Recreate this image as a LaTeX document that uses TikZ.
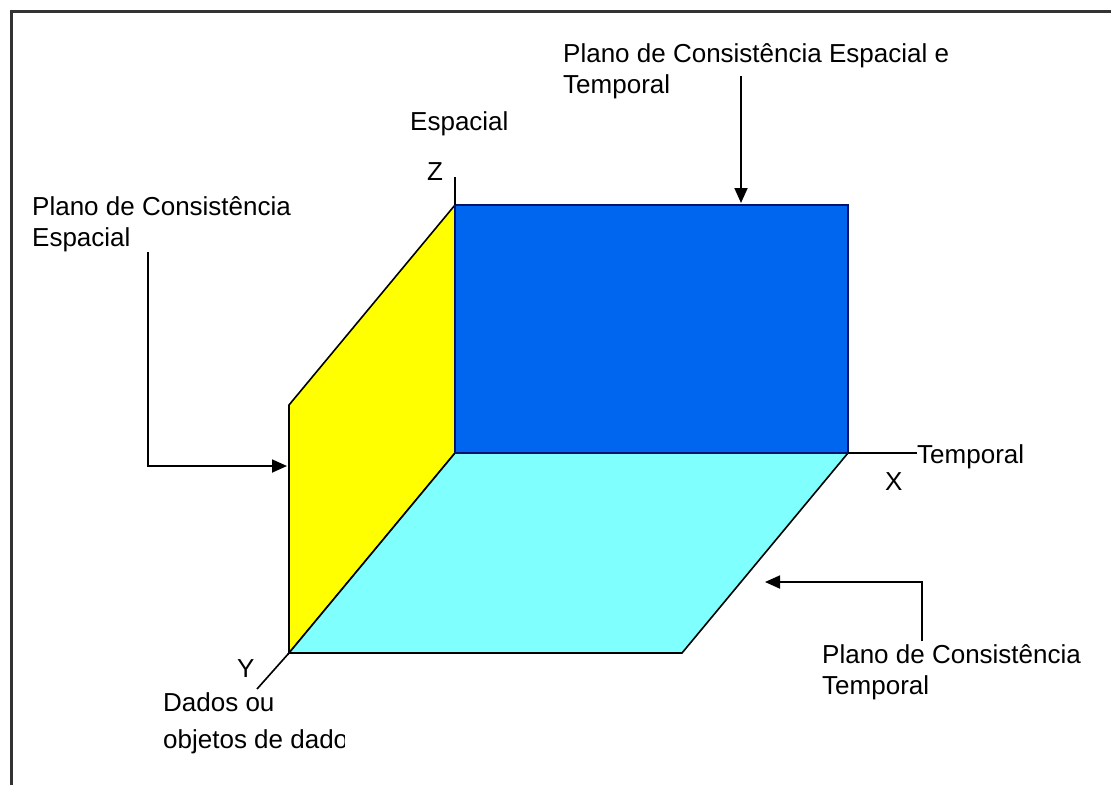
\documentclass[tikz,border=0pt]{standalone}
\usepackage{fontspec}
\setmainfont{Liberation Sans}
\usetikzlibrary{arrows.meta}
\definecolor{planeblue}{RGB}{0,102,240}
\definecolor{planenavy}{RGB}{0,20,110}
\definecolor{planecyan}{RGB}{128,255,255}
\definecolor{planeyellow}{RGB}{255,255,0}
\begin{document}
\begin{tikzpicture}[x=1pt,y=-1pt,
  lbl/.style={font=\fontsize{26}{31}\selectfont, inner sep=0pt, anchor=base west, align=left},
  edgeline/.style={line width=1.6pt},
  axisline/.style={draw=black, line width=1.6pt},
  ptr/.style={draw=black, line width=1.8pt, -{Triangle[length=15pt,width=13pt]}},
  ]
\useasboundingbox (0,0) rectangle (1111,785);
\fill[white] (0,0) rectangle (1111,785);
\draw[line width=3pt, black!80] (11,785) -- (11,11) -- (1111,11);

% geometry
\coordinate (O) at (455,453);
\coordinate (Zt) at (455,205);
\coordinate (Xr) at (848,453);
\coordinate (XZ) at (848,205);
\coordinate (Yb) at (289,653);
\coordinate (YZ) at (289,405);
\coordinate (XY) at (682,653);
\coordinate (Ztip) at (455,177);
\coordinate (Ytip) at (257,689);

% planes
\filldraw[fill=planeyellow, draw=black, edgeline] (O) -- (Zt) -- (YZ) -- (Yb) -- cycle;
\filldraw[fill=planecyan, draw=black, edgeline] (O) -- (Xr) -- (XY) -- (Yb) -- cycle;
\filldraw[fill=planeblue, draw=planenavy, edgeline] (O) rectangle (XZ);

% axis labels
\node[lbl] (esp) at (410,130) {Espacial};
\node[lbl] (zl) at (427,180) {Z};
\node[lbl] (temp) at (917,463) {Temporal};
\node[lbl] (xl) at (885,490) {X};
\node[lbl] (yl) at (237,677) {Y};
\node[lbl] (dados) at (163,711) {Dados ou};
\begin{scope}
\clip (0,715) rectangle (344,785);
\node[lbl] (objs) at (163,748) {objetos de dados};
\end{scope}

% axes
\draw[axisline] (Zt) -- (Ztip);
\draw[axisline] (Xr) -- (Xr -| temp.west);
\draw[axisline] (Yb) -- (Ytip);

% plane labels (anchor = baseline of last line)
\node[lbl] (pst) at (563,93) {Plano de Consistência Espacial e\\Temporal};
\node[lbl] (pe) at (32,246) {Plano de Consistência\\Espacial};
\node[lbl] (pt) at (822,694) {Plano de Consistência\\Temporal};

% pointers
\coordinate (a1s) at (741,76);
\coordinate (a1e) at (741,203);
\draw[ptr] (a1s) -- (a1e);

\coordinate (a2s) at (148,252);
\coordinate (a2e) at (287,466);
\draw[ptr] (a2s) |- (a2e);

\coordinate (a3s) at (922,641);
\coordinate (a3e) at (765,582);
\draw[ptr] (a3s) |- (a3e);
\end{tikzpicture}
\end{document}
